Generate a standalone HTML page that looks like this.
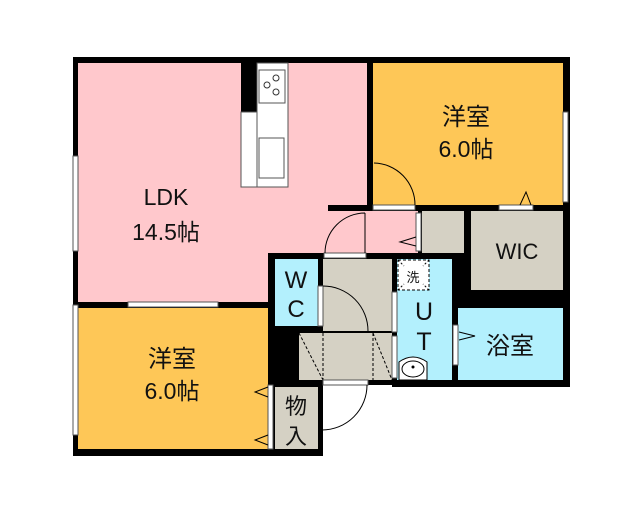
<!DOCTYPE html>
<html><head><meta charset="utf-8"><style>
html,body{margin:0;padding:0;background:#fff;width:640px;height:512px;overflow:hidden}
svg text{font-family:"Liberation Sans","Noto Sans CJK JP",sans-serif;fill:#111}
</style></head><body>
<svg width="640" height="512" viewBox="0 0 640 512" xmlns="http://www.w3.org/2000/svg">
<polygon points="73,57 570,57 570,387 392,387 392,385 323,385 323,456 73,456" fill="#000"/>
<polygon points="78,63 367,63 367,205 328,205 328,211 418,211 418,253 268,253 268,302 78,302" fill="#ffc8cc"/>
<rect x="373" y="63" width="190" height="142" fill="#fec757"/>
<rect x="78" y="308" width="190" height="141" fill="#fec757"/>
<rect x="471" y="211" width="92" height="79" fill="#d5d1c4"/>
<rect x="422" y="211" width="42" height="42" fill="#d5d1c4"/>
<rect x="275" y="259" width="43" height="67" fill="#b3f0fd"/>
<rect x="323" y="259" width="69" height="72" fill="#d5d1c4"/>
<rect x="299" y="333" width="93" height="47" fill="#d5d1c4"/>
<line x1="299" y1="332" x2="392" y2="332" stroke="#000" stroke-width="1"/>
<g stroke="#000" stroke-width="1" stroke-dasharray="3,2" fill="none">
<line x1="323" y1="333" x2="323" y2="380"/><line x1="373" y1="333" x2="373" y2="380"/>
<line x1="299" y1="333" x2="323" y2="380"/><line x1="373" y1="333" x2="392" y2="380"/>
</g>
<rect x="397" y="259" width="55" height="121" fill="#b3f0fd"/>
<rect x="398" y="260" width="31" height="30" fill="#fff" stroke="#000" stroke-dasharray="3,2"/>
<g stroke="#000" stroke-dasharray="2,2">
<line x1="398" y1="260" x2="404" y2="266"/><line x1="429" y1="260" x2="423" y2="266"/>
<line x1="398" y1="290" x2="404" y2="284"/><line x1="429" y1="290" x2="423" y2="284"/>
</g>
<path d="M399,380 L399,362 Q413,352 427,362 L427,380 Z" fill="#fff" stroke="#000"/>
<ellipse cx="413" cy="369" rx="11" ry="8" fill="#fff" stroke="#000"/>
<circle cx="413" cy="367" r="1.5" fill="#000"/>
<rect x="458" y="308" width="105" height="72" fill="#b3f0fd"/>
<rect x="275" y="387" width="43" height="62" fill="#d5d1c4"/>
<rect x="241" y="63" width="16" height="49" fill="#000"/>
<rect x="241" y="112" width="47" height="75" fill="#fff" stroke="#555"/>
<rect x="257" y="63" width="31" height="124" fill="#fff" stroke="#555"/>
<rect x="259" y="70" width="26" height="33" fill="#fff" stroke="#555"/>
<circle cx="267" cy="85" r="3" fill="none" stroke="#333"/><circle cx="276" cy="78" r="3" fill="none" stroke="#333"/><circle cx="276" cy="92" r="3" fill="none" stroke="#333"/>
<rect x="259" y="138" width="25" height="40" fill="#fff" stroke="#555"/>
<g fill="#fff" stroke="#555" stroke-width="1">
<rect x="73" y="156" width="5" height="95"/>
<rect x="128" y="302" width="90" height="5"/>
<rect x="73" y="305" width="5" height="130"/>
<rect x="563" y="112" width="5" height="90"/>
<rect x="373" y="205" width="42" height="5"/>
<rect x="499" y="205" width="34" height="5"/>
<rect x="324" y="253" width="42" height="5"/>
<rect x="318" y="286" width="5" height="40"/>
<rect x="392" y="292" width="5" height="40"/>
<rect x="392" y="336" width="5" height="42"/>
<rect x="416" y="213" width="5" height="38"/>
<rect x="453" y="325" width="5" height="40"/>
<rect x="268" y="385" width="5" height="64"/>
<rect x="323" y="380" width="45" height="5"/>
</g>
<g fill="none" stroke="#000" stroke-width="1">
<path d="M374,163 A42,42 0 0 1 415,205"/>
<path d="M365,213 L365,253 M365,213 A40,40 0 0 0 325,253"/>
<path d="M323,286 A45,45 0 0 1 368,331"/>
<path d="M367,385 A45,45 0 0 1 322,430"/>
<path d="M520,205 L526,192 L531,205"/>
<path d="M416,237 L400,242 L416,246"/>
<path d="M459,332 L475,336 L459,340"/>
<path d="M268,387 L255,392 L268,397"/>
<path d="M268,435 L255,440 L268,445"/>
</g>
<text x="166" y="205" font-size="23" text-anchor="middle">LDK</text>
<text x="166" y="240" font-size="23" text-anchor="middle">14.5帖</text>
<text x="466" y="125" font-size="24" text-anchor="middle">洋室</text>
<text x="466" y="157" font-size="23" text-anchor="middle">6.0帖</text>
<text x="172" y="367" font-size="24" text-anchor="middle">洋室</text>
<text x="172" y="399" font-size="23" text-anchor="middle">6.0帖</text>
<text x="517" y="259" font-size="22" text-anchor="middle">WIC</text>
<text x="510" y="354" font-size="24" text-anchor="middle">浴室</text>
<text x="296" y="288" font-size="24" text-anchor="middle">W</text>
<text x="296" y="317" font-size="24" text-anchor="middle">C</text>
<text x="424" y="320" font-size="25" text-anchor="middle">U</text>
<text x="424" y="350" font-size="25" text-anchor="middle">T</text>
<text x="413" y="282" font-size="13" text-anchor="middle">洗</text>
<text x="296" y="414" font-size="22" text-anchor="middle">物</text>
<text x="296" y="444" font-size="22" text-anchor="middle">入</text>
</svg>
</body></html>
